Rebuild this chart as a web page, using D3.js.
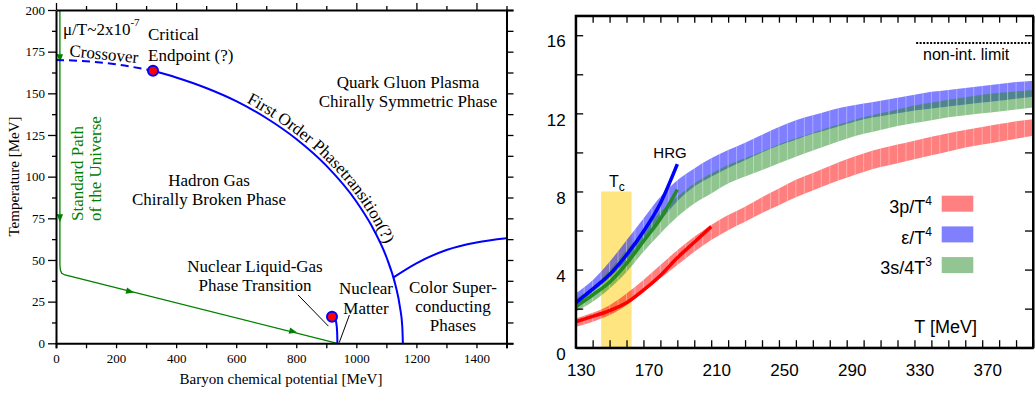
<!DOCTYPE html>
<html>
<head>
<meta charset="utf-8">
<script src="https://cdn.jsdelivr.net/npm/d3@7"></script>
<style>
  body { margin: 0; background: #fff; }
</style>
</head>
<body>
<div id="chart"></div>
<script>
// ---------- left panel: QCD phase diagram (mu_B [MeV], T [MeV]) ----------
var crossover   = [[0,170],[100,169.3],[200,167.4],[323,163.5]];
var firstOrder  = [[323,163.5],[400,159.5],[500,153.2],[600,145.3],[700,135.2],[800,122.6],[900,106.6],
                   [1000,85.1],[1050,70.8],[1100,51.8],[1130,35.1],[1145,22],[1153,10],[1155,0]];
var cscLine     = [[1124,39.6],[1200,48],[1300,56],[1400,60.5],[1500,63]];
var nuclearLG   = [[919,16],[928,15.2],[933,12.5],[936,7],[937,0]];
var endpoints   = [[323,163.5],[919,16]];
var universe    = [[13,200],[13,47],[14.5,44],[19,42],[30,41],[937,0]];
var pathArrows  = [[13,171,90],[13,75,90],[247,31,0],[790,7,0]];   // mu, T, 90 = downward / 0 = along line
var leaders     = [[[806,29],[907,10.3]], [[977,17],[943,0.4]]];

// ---------- right panel: lattice EoS bands ----------
var temps = [130,140,150,160,170,180,190,200,210,220,230,240,250,260,270,280,290,300,310,320,330,340,350,360,370,380,390,400];
var pLo = [1.07,1.33,1.67,2.18,2.87,3.55,4.23,4.91,5.51,6.02,6.45,6.9,7.3,7.7,8.05,8.4,8.7,9.0,9.25,9.45,9.65,9.85,10.05,10.25,10.4,10.55,10.7,10.85];
var pHi = [1.5,1.79,2.18,2.78,3.47,4.23,4.99,5.68,6.28,6.79,7.22,7.7,8.15,8.6,8.95,9.3,9.65,9.95,10.2,10.4,10.6,10.8,10.98,11.15,11.3,11.45,11.6,11.7];
var eLo = [2.18,2.85,3.6,4.45,5.5,6.5,7.5,8.25,8.75,9.2,9.6,10.0,10.35,10.65,10.95,11.2,11.45,11.7,11.85,12.0,12.15,12.25,12.35,12.45,12.55,12.65,12.75,12.85];
var eHi = [2.78,3.45,4.4,5.5,6.62,7.73,8.58,9.18,9.7,10.12,10.5,10.9,11.3,11.65,11.9,12.15,12.35,12.5,12.65,12.8,12.95,13.1,13.2,13.3,13.4,13.5,13.6,13.67];
var sLo = [1.84,2.35,3.03,3.88,4.91,5.85,6.7,7.39,7.9,8.41,8.76,9.1,9.45,9.78,10.1,10.4,10.7,10.95,11.15,11.35,11.5,11.65,11.8,11.9,12.0,12.1,12.2,12.3];
var sHi = [2.52,3.12,3.97,4.99,6.02,6.96,7.73,8.41,8.92,9.35,9.7,10.05,10.4,10.72,11.0,11.3,11.55,11.8,12.0,12.2,12.4,12.55,12.7,12.82,12.95,13.05,13.12,13.2];

var hrgT  = [130,140,150,160,170,180,190];
var hrgE  = [2.3,3.0,3.75,4.75,5.95,7.4,9.4];
var hrgS  = [2.1,2.7,3.35,4.3,5.45,6.6,8.1];
var hrgPT = [130,140,150,160,170,180,190,200,210];
var hrgP  = [1.33,1.6,1.9,2.3,2.95,3.7,4.6,5.4,6.2];

var tcRange = [145,163], tcTop = 8;
var sbLimit = 15.6, sbRange = [331,400];

var xTickVals = [130,170,210,250,290,330,370];
var yTickVals = [0,4,8,12,16];

// ---------------------------------------------------------------
var svg = d3.select("#chart").append("svg")
  .attr("width", 1036).attr("height", 394);

var serif = "'Liberation Serif','Times New Roman',serif";
var sans = "'Liberation Sans',Arial,Helvetica,sans-serif";

// ===== LEFT PANEL =====
var xL = d3.scaleLinear().domain([0,1500]).range([56,506.5]);
var yL = d3.scaleLinear().domain([0,200]).range([343.3,10]);
var L = svg.append("g").attr("font-family", serif);
var lineL = d3.line().x(function(d){ return xL(d[0]); }).y(function(d){ return yL(d[1]); });

// standard path of the universe
L.append("path").attr("d", lineL(universe))
  .attr("fill","none").attr("stroke","#008000").attr("stroke-width",1.3);
pathArrows.forEach(function(a) {
  var ang = a[2];
  if (ang === 0) {
    var p0 = universe[universe.length-2], p1 = universe[universe.length-1];
    ang = Math.atan2(yL(p1[1]) - yL(p0[1]), xL(p1[0]) - xL(p0[0])) * 180 / Math.PI;
  }
  L.append("path").attr("d","M-4,-3.2L4,0L-4,3.2Z").attr("fill","#008000")
    .attr("transform","translate(" + xL(a[0]) + "," + yL(a[1]) + ") rotate(" + ang + ")");
});

// phase boundaries
L.append("path").attr("d", lineL.curve(d3.curveMonotoneX)(crossover))
  .attr("fill","none").attr("stroke","#0000ff").attr("stroke-width",2).attr("stroke-dasharray","8,5");
var fo = L.append("path").attr("d", lineL.curve(d3.curveMonotoneX)(firstOrder))
  .attr("fill","none").attr("stroke","#0000ff").attr("stroke-width",2);
L.append("path").attr("d", lineL.curve(d3.curveMonotoneX)(cscLine))
  .attr("fill","none").attr("stroke","#0000ff").attr("stroke-width",2);
L.append("path").attr("d", lineL.curve(d3.curveMonotoneX)(nuclearLG))
  .attr("fill","none").attr("stroke","#0000ff").attr("stroke-width",2);

leaders.forEach(function(s) {
  L.append("line").attr("x1",xL(s[0][0])).attr("y1",yL(s[0][1]))
    .attr("x2",xL(s[1][0])).attr("y2",yL(s[1][1])).attr("stroke","#000").attr("stroke-width",1);
});

L.selectAll("circle.ep").data(endpoints).enter().append("circle")
  .attr("cx", function(d){ return xL(d[0]); }).attr("cy", function(d){ return yL(d[1]); })
  .attr("r", 5).attr("fill","#ff0000").attr("stroke","#0000ff").attr("stroke-width",2);

// text along the first order line (offset outward)
(function() {
  var node = fo.node(), len = node.getTotalLength(), pts = [], step = 2;
  for (var s = 0; s <= len; s += step) {
    var a = node.getPointAtLength(Math.max(0, s - 1)), b = node.getPointAtLength(Math.min(len, s + 1));
    var p = node.getPointAtLength(s);
    var tx = b.x - a.x, ty = b.y - a.y, n = Math.sqrt(tx*tx + ty*ty) || 1;
    if (p.x >= 244) pts.push([p.x + 3.5 * ty / n, p.y - 3.5 * tx / n]);
  }
  svg.append("defs").append("path").attr("id","foText").attr("d", d3.line()(pts));
  L.append("text").style("font-size","17px")
    .append("textPath").attr("href","#foText").text("First Order Phasetransition(?)");
})();

function txt(g, x, y, s, size, anchor, color) {
  return g.append("text").attr("x",x).attr("y",y).attr("text-anchor",anchor || "middle")
    .style("font-size", size + "px").attr("fill", color || "#000").text(s);
}
var mu = L.append("text").attr("x",63).attr("y",35).style("font-size","17px");
mu.append("tspan").text("\u03bc/T~2x10");
mu.append("tspan").attr("dy",-9).style("font-size","11px").text("-7");
txt(L, 69, 56, "Crossover", 17, "start").attr("transform","rotate(6,69,56)");
txt(L, 148, 40, "Critical", 17, "start");
txt(L, 148, 61, "Endpoint (?)", 17, "start");
txt(L, 408, 88, "Quark Gluon Plasma", 17);
txt(L, 408, 107, "Chirally Symmetric Phase", 17);
txt(L, 209, 186, "Hadron Gas", 17);
txt(L, 209, 205, "Chirally Broken Phase", 17);
txt(L, 255, 272, "Nuclear Liquid-Gas", 17);
txt(L, 255, 291, "Phase Transition", 17);
txt(L, 366, 294, "Nuclear", 17);
txt(L, 366, 314, "Matter", 17);
txt(L, 453, 293, "Color Super-", 17);
txt(L, 453, 312, "conducting", 17);
txt(L, 453, 331, "Phases", 17);
txt(L, 83, 221, "Standard Path", 17, "start", "#008000").attr("transform","rotate(-90,83,221)");
txt(L, 101, 221, "of the Universe", 17, "start", "#008000").attr("transform","rotate(-90,101,221)");
txt(L, 281, 384, "Baryon chemical potential [MeV]", 15);
txt(L, 19, 176.5, "Temperature [MeV]", 15).attr("transform","rotate(-90,19,176.5)");

// left axes
var axL = L.append("g");
var bottomL = axL.append("g").attr("transform","translate(0,343.3)")
  .call(d3.axisBottom(xL).tickValues(d3.range(0,1501,100)).tickSize(5)
    .tickFormat(function(d){ return d % 200 === 0 && d < 1500 ? d : ""; }).tickPadding(5));
var topL = axL.append("g").attr("transform","translate(0,10)")
  .call(d3.axisTop(xL).tickValues(d3.range(0,1501,100)).tickSize(0).tickFormat(""));
topL.selectAll(".tick line").attr("y2", function(d){ return d % 200 === 0 ? -7 : -4; });
var leftL = axL.append("g").attr("transform","translate(56,0)")
  .call(d3.axisLeft(yL).tickValues(d3.range(0,200.1,12.5)).tickSize(0).tickPadding(11)
    .tickFormat(function(d){ return d % 25 === 0 ? d : ""; }));
leftL.selectAll(".tick line").attr("x2", function(d){ return d % 25 === 0 ? -8 : -4; });
axL.append("g").attr("transform","translate(506.5,0)")
  .call(d3.axisRight(yL).tickValues(d3.range(0,200.1,12.5)).tickSize(7).tickFormat(""));
axL.selectAll("g").attr("font-family", serif).attr("font-size", 13);
axL.selectAll(".domain").attr("stroke-width",2);
axL.selectAll(".tick line").attr("stroke-width",1.3);
axL.selectAll(".tick text").style("font-family", serif).style("font-size","13px").attr("fill","#000");

// ===== RIGHT PANEL =====
var xR = d3.scaleLinear().domain([130,400]).range([575.7,1033]);
var yR = d3.scaleLinear().domain([0,17]).range([347.7,15.7]);
var R = svg.append("g").attr("font-family", sans);
var defs = svg.append("defs");

R.append("rect").attr("x", xR(tcRange[0])).attr("y", yR(tcTop))
  .attr("width", xR(tcRange[1]) - xR(tcRange[0])).attr("height", yR(0) - yR(tcTop))
  .attr("fill","#ffe57f");

var bands = [
  {lo:pLo, hi:pHi, color:"rgba(255,0,0,0.5)", id:"bp"},
  {lo:eLo, hi:eHi, color:"rgba(0,0,255,0.5)", id:"be"},
  {lo:sLo, hi:sHi, color:"rgba(34,139,34,0.5)", id:"bs"}
];
bands.forEach(function(b) {
  var area = d3.area().curve(d3.curveMonotoneX)
    .x(function(d,i){ return xR(temps[i]); })
    .y0(function(d,i){ return yR(b.lo[i]); })
    .y1(function(d,i){ return yR(b.hi[i]); });
  var d = area(temps);
  R.append("path").attr("d", d).attr("fill", b.color);
  defs.append("clipPath").attr("id", b.id).append("path").attr("d", d);
  R.append("g").attr("clip-path","url(#" + b.id + ")")
    .selectAll("line").data(d3.range(135, 400, 5)).enter().append("line")
    .attr("x1", function(t){ return xR(t); }).attr("x2", function(t){ return xR(t); })
    .attr("y1", yR(17)).attr("y2", yR(0))
    .attr("stroke","#fff").attr("stroke-opacity",0.35).attr("stroke-width",1);
});

function hrgLine(T, v, color) {
  var ln = d3.line().curve(d3.curveMonotoneX)
    .x(function(d,i){ return xR(T[i]); }).y(function(d,i){ return yR(v[i]); });
  R.append("path").attr("d", ln(T)).attr("fill","none").attr("stroke",color).attr("stroke-width",3.5);
}
hrgLine(hrgPT, hrgP, "#ff0000");
hrgLine(hrgT, hrgS, "#228b22");
hrgLine(hrgT, hrgE, "#0000ff");

R.append("line").attr("x1", xR(sbRange[0])).attr("x2", xR(sbRange[1]))
  .attr("y1", yR(sbLimit)).attr("y2", yR(sbLimit))
  .attr("stroke","#000").attr("stroke-width",2).attr("stroke-dasharray","2,1.5");
txt(R, 923, 60, "non-int. limit", 16, "start");
txt(R, 670, 158, "HRG", 15);
var tc = R.append("text").attr("x",609).attr("y",187).style("font-size","16px");
tc.append("tspan").text("T");
tc.append("tspan").attr("dy",4).style("font-size","12px").text("c");

// legend
var legend = [
  {label:"3p/T", sup:"4", color:"#ff8080"},
  {label:"\u03b5/T", sup:"4", color:"#8080ff"},
  {label:"3s/4T", sup:"3", color:"#92c592"}
];
legend.forEach(function(l, i) {
  var yb = 213 + i * 30.7;
  var t = R.append("text").attr("x", 932).attr("y", yb).attr("text-anchor","end").style("font-size","18px");
  t.append("tspan").text(l.label);
  t.append("tspan").attr("dy",-8).style("font-size","12px").text(l.sup);
  R.append("rect").attr("x", 941.7).attr("y", yb - 17.3).attr("width", 31.6).attr("height", 16)
    .attr("fill", l.color);
});
txt(R, 977, 333, "T [MeV]", 18, "end");

// right axes
var axR = R.append("g");
var bx = axR.append("g").attr("transform","translate(0,347.7)")
  .call(d3.axisBottom(xR).tickValues(d3.range(130,401,10)).tickSizeInner(-7.5).tickSizeOuter(0).tickPadding(16)
    .tickFormat(function(d){ return xTickVals.indexOf(d) >= 0 ? d : ""; }));
bx.selectAll(".tick text").attr("dx", 5);
axR.append("g").attr("transform","translate(0,15.7)")
  .call(d3.axisTop(xR).tickValues(d3.range(130,401,10)).tickSizeInner(-7).tickSizeOuter(0).tickFormat(""));
var ly = axR.append("g").attr("transform","translate(575.7,0)")
  .call(d3.axisLeft(yR).tickValues(d3.range(0,17,2)).tickSizeInner(-7.5).tickSizeOuter(0).tickPadding(10)
    .tickFormat(function(d){ return yTickVals.indexOf(d) >= 0 ? d : ""; }));
ly.selectAll(".tick text").attr("dy", "0.75em").attr("transform","translate(0,-1)");
axR.append("g").attr("transform","translate(1033,0)")
  .call(d3.axisRight(yR).tickValues(d3.range(0,17,2)).tickSizeInner(-8).tickSizeOuter(0).tickFormat(""));
axR.selectAll("g").attr("font-family", sans);
axR.selectAll(".domain").attr("stroke-width",2);
axR.selectAll(".tick line").attr("stroke-width",1.3);
axR.selectAll(".tick text").style("font-family", sans).style("font-size","17px").attr("fill","#000");
// close the frame on the right panel
axR.append("rect").attr("x",575.7).attr("y",15.7).attr("width",1033-575.7).attr("height",347.7-15.7)
  .attr("fill","none").attr("stroke","#000").attr("stroke-width",2);
</script>
</body>
</html>
